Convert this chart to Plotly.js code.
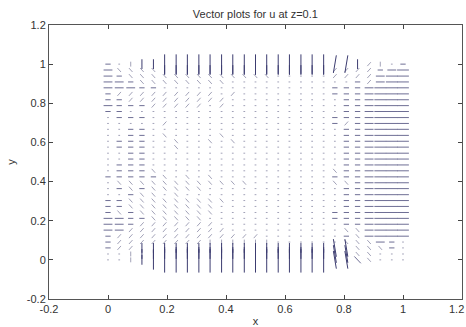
<!DOCTYPE html>
<html><head><meta charset="utf-8">
<script src="https://cdn.plot.ly/plotly-3.0.1.min.js"></script>
<style>html,body{margin:0;padding:0;background:#fff}#chart{width:466px;height:327px}</style>
</head><body><div id="chart"></div>
<script>
// grid positions of the quiver arrows
const xGrid = [0,0.038,0.077,0.115,0.154,0.192,0.231,0.269,0.308,0.346,0.385,0.423,0.462,0.5,0.538,0.577,0.615,0.654,0.692,0.731,0.769,0.808,0.846,0.885,0.923,0.962,1];
const yGrid = [1,0.97,0.939,0.909,0.879,0.848,0.818,0.788,0.758,0.727,0.697,0.667,0.636,0.606,0.576,0.545,0.515,0.485,0.455,0.424,0.394,0.364,0.333,0.303,0.273,0.242,0.212,0.182,0.152,0.121,0.091,0.061,0.03,0];
// vector codes (row per y, top to bottom; groups of 9 columns)
const fieldRows = [
 "-.ivvVVVV VVVVVVVVV VV))v/i.-",
 "hbbbbvvvv vvvvvvvvv vv////-hH",
 "h-bbbbbbb bbbbbb... ..////hHH",
 "hh-bbbbbb bb....... ....-/hHH",
 "hhh--.... ......... ..---hHHH",
 "-//////// /./...... ..---hHHH",
 "--/////// //....... ...--hHHH",
 "h---///// ./....... ...--hHHH",
 "--....... ......... ...--hHHH",
 ".---..... ......... ..---hHHH",
 "...../... ......... ..-/-hHHH",
 "..--..... ......... ...--hHHH",
 "..--.b... .b....... ...--hHHH",
 ".---..b.. b.b...... ...--hHHH",
 ".---..b.. ......... ...--hHHH",
 "..--..... ......... ...--hHHH",
 "..--..... ......... ...--hHHH",
 ".---..... ......... ...--hHHH",
 ".---b.... ......... ..b--hHHH",
 "-----b.b. b........ ..---hHHH",
 ".bbbbbbbb bbbb..... ..bb-hHHH",
 ".-b-bbbbb ......... ...--hHHH",
 "..-bb.b.. ......... ...--hHHH",
 "--bbbbbbb bb....... ...--hHHH",
 "--bbbbbbb b........ ...--hHHH",
 "-b-bbbbbb b........ ..---hHHH",
 "hh--bbbbb ......... ..---hHHH",
 "hh-////// /........ ...--hHHH",
 "hh/////// //....... ...bbhHHH",
 "-//////// /////.... ...-bhHHH",
 "-//////// iiiiii... ...bbbh-.",
 "-//vvvvvv vvvvvvvvv vv((bbb-.",
 "..ivvvvvv vvvvvvvvv vv((bb...",
 "..ivVWWWW WWWWWWWWW WW((Bb..."
];
// code -> [u, v] in data units
const codeU = {W:0, V:0, v:0, i:0, ')':0.01, '(':-0.01, S:0.025, '/':0.012, b:0.012, B:0.022, H:0.04, h:0.03, '-':0.018, '.':0.006};
const codeV = {W:0.13, V:0.10, v:0.05, i:0.025, ')':0.09, '(':0.09, S:0.04, '/':0.02, b:-0.02, B:-0.035, H:0, h:0, '-':0, '.':0};
const strongCodes = "WVv)(";
const mediumCodes = "HhSB-";

const seg = {strong: {x: [], y: []}, medium: {x: [], y: []}, weak: {x: [], y: []}};
fieldRows.forEach((row, r) => {
  const cells = row.replace(/ /g, "");
  Array.from(cells).forEach((ch, c) => {
    if (!(ch in codeU) || c >= xGrid.length) return;
    const x = xGrid[c], y = yGrid[r], u = codeU[ch], v = codeV[ch];
    const g = strongCodes.includes(ch) ? seg.strong : (mediumCodes.includes(ch) ? seg.medium : seg.weak);
    g.x.push(x - u/2, x + u/2, null);
    g.y.push(y - v/2, y + v/2, null);
  });
});

const axisFont = {family: "Liberation Sans, Arial, sans-serif", size: 11, color: "#333"};
const tickVals = [-0.2,0,0.2,0.4,0.6,0.8,1,1.2];
const tickText = ["-0.2","0","0.2","0.4","0.6","0.8","1","1.2"];
const data = [
  {type: "scatter", mode: "lines", x: seg.weak.x, y: seg.weak.y, line: {color: "#a2a2b8", width: 1}, hoverinfo: "skip", showlegend: false},
  {type: "scatter", mode: "lines", x: seg.medium.x, y: seg.medium.y, line: {color: "#6e6e94", width: 1}, hoverinfo: "skip", showlegend: false},
  {type: "scatter", mode: "lines", x: seg.strong.x, y: seg.strong.y, line: {color: "#3c3c70", width: 1}, hoverinfo: "skip", showlegend: false}
];
const layout = {
  width: 466, height: 327,
  margin: {l: 49, r: 4, t: 25, b: 28},
  paper_bgcolor: "#fff", plot_bgcolor: "#fff",
  title: {text: "Vector plots for u at z=0.1", font: {family: "Liberation Sans, Arial, sans-serif", size: 11, color: "#333"}, x: 0.548, xanchor: "center", y: 0.957, yanchor: "middle"},
  xaxis: {range: [-0.2, 1.2], tickvals: tickVals, ticktext: tickText,
    ticks: "inside", ticklen: 4, tickcolor: "#444", showline: true, linecolor: "#555", linewidth: 1, mirror: "ticks",
    showgrid: false, zeroline: false, tickfont: axisFont, title: {text: "x", font: axisFont, standoff: 4}},
  yaxis: {range: [-0.2, 1.2], tickvals: tickVals, ticktext: tickText,
    ticks: "inside", ticklen: 4, tickcolor: "#444", showline: true, linecolor: "#555", linewidth: 1, mirror: "ticks",
    showgrid: false, zeroline: false, tickfont: axisFont, title: {text: "y", font: axisFont, standoff: 8}},
  annotations: [{text: tickText[7], x: tickVals[7], xref: "x", y: 0, yref: "paper", yanchor: "top", xanchor: "center", xshift: -6, yshift: -2, showarrow: false, font: axisFont}]
};
Plotly.newPlot("chart", data, layout, {displayModeBar: false, staticPlot: true});
</script></body></html>
